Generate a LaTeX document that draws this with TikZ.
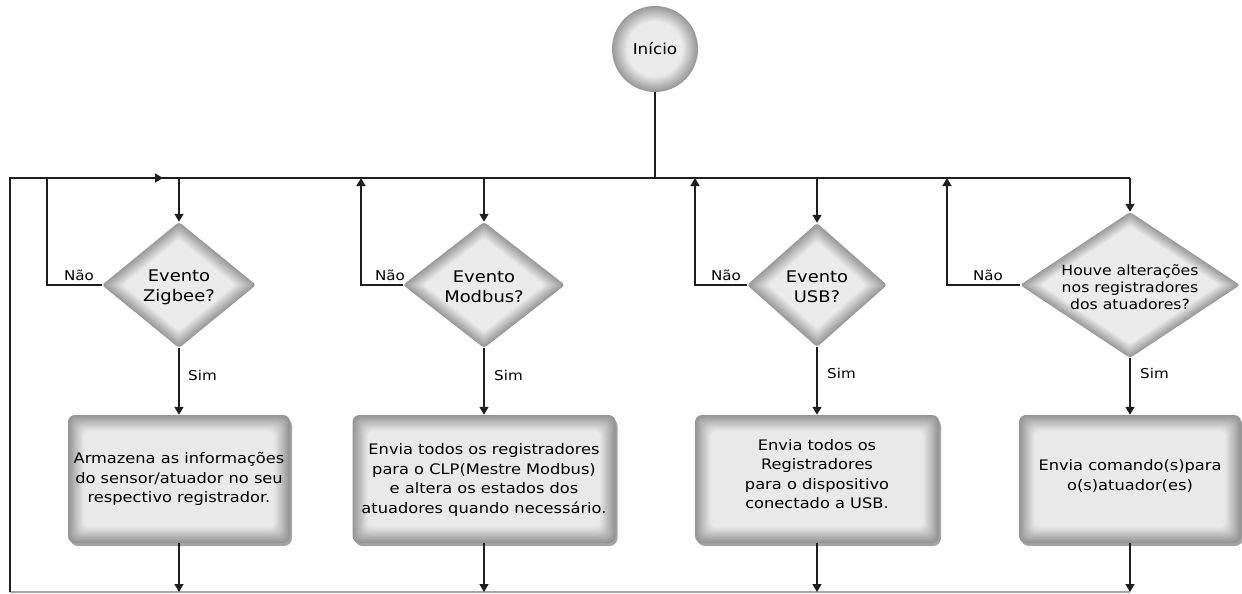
\documentclass[tikz,border=0pt]{standalone}
\usepackage{fontspec}
\setmainfont{DejaVu Sans}[FakeStretch=1.12]
\usetikzlibrary{arrows.meta,shapes.geometric}

% bevelled rounded rectangle: cx, cy, w, h
\newcommand\bevelrect[4]{%
  \fill[black!36, rounded corners=8] ({#1-#3/2+2},{#2-#4/2+3}) rectangle ({#1+#3/2+2},{#2+#4/2+3});
  \foreach \i [evaluate=\i as \c using 42-1.95*\i] in {0,...,17}{%
    \fill[black!\c, rounded corners=7] ({#1-#3/2+0.9*\i},{#2-#4/2+0.9*\i}) rectangle ({#1+#3/2-0.9*\i},{#2+#4/2-0.9*\i});
  }%
}
% bevelled diamond: cx, cy, hw, hh
\newcommand\beveldia[4]{%
  \foreach \i [evaluate=\i as \c using 40-1.9*\i, evaluate=\i as \w using #3-1.25*\i, evaluate=\i as \h using #4-1.25*\i*#4/#3] in {0,...,17}{%
    \fill[black!\c, rounded corners=3] ({#1-\w},{#2}) -- ({#1},{#2-\h}) -- ({#1+\w},{#2}) -- ({#1},{#2+\h}) -- cycle;
  }%
}
% bevelled circle: cx, cy, r
\newcommand\bevelcirc[3]{%
  \foreach \i [evaluate=\i as \c using 40-1.9*\i] in {0,...,17}{%
    \fill[black!\c] (#1,#2) circle ({#3-0.9*\i});
  }%
}

\tikzset{
  txt/.style={align=center, inner sep=0, font=\fontsize{14.5}{19.5}\selectfont},
  dtxt/.style={align=center, inner sep=0, font=\fontsize{16}{20}\selectfont},
  lbl/.style={inner sep=0, font=\fontsize{13.5}{16}\selectfont},
  dia/.style={diamond, draw=none, inner sep=0},
  boxn/.style={rectangle, draw=none, inner sep=0},
  ln/.style={draw=black!88, line width=1.5},
  arr/.style={ln, -{Triangle[length=8,width=9]}},
  faint/.style={draw=black!35, line width=1.2}
}

\begin{document}
\begin{tikzpicture}[x=1pt, y=-1pt]
\useasboundingbox (0,0) rectangle (1242,594);

% shaded shapes
\bevelcirc{655}{49}{43}
\beveldia{179}{285}{77}{63}
\beveldia{484}{285}{81}{63}
\beveldia{817}{285}{70}{62}
\beveldia{1130}{285}{110}{73}
\bevelrect{179}{479}{222}{128}
\bevelrect{484}{479}{263}{128}
\bevelrect{817}{479}{244}{128}
\bevelrect{1130}{479}{222}{128}

% nodes
\node[circle, minimum size=86, inner sep=0, font=\fontsize{15}{19}\selectfont] (s) at (655,49) {Início};

\node[dia, minimum width=154, minimum height=126] (d1) at (179,285) {};
\node[dia, minimum width=162, minimum height=126] (d2) at (484,285) {};
\node[dia, minimum width=140, minimum height=124] (d3) at (817,285) {};
\node[dia, minimum width=220, minimum height=146] (d4) at (1130,285) {};

\node[dtxt] (t1) at (179,287) {Evento\\Zigbee?};
\node[dtxt] (t2) at (484,287) {Evento\\Modbus?};
\node[dtxt] (t3) at (817,287) {Evento\\USB?};
\node[txt, font=\fontsize{14}{17}\selectfont] (t4) at (1130,287) {Houve alterações\\nos registradores\\dos atuadores?};

\node[boxn, minimum width=222, minimum height=128] (b1) at (179,479) {};
\node[boxn, minimum width=263, minimum height=128] (b2) at (484,479) {};
\node[boxn, minimum width=244, minimum height=128] (b3) at (817,479) {};
\node[boxn, minimum width=222, minimum height=128] (b4) at (1130,479) {};

\node[txt] (bt1) at (179,479) {Armazena as informações\\do sensor/atuador no seu\\respectivo registrador.};
\node[txt] (bt2) at (484,480) {Envia todos os registradores\\para o CLP(Mestre Modbus)\\e altera os estados dos\\atuadores quando necessário.};
\node[txt] (bt3) at (817,474) {Envia todos os\\Registradores\\para o dispositivo\\conectado a USB.};
\node[txt] (bt4) at (1130,476) {Envia comando(s)para\\o(s)atuador(es)};

% bus coordinates
\coordinate (sb) at (655,178);
\coordinate (tl) at (10,178);
\coordinate (bl) at (10,592);
\coordinate (ta) at (163,178);
\coordinate (tr) at (1130,178);
\coordinate (br) at (1130,592);
\coordinate (c1) at (179,178);
\coordinate (c2) at (484,178);
\coordinate (c3) at (817,178);
\coordinate (n1) at (47,178);
\coordinate (n2) at (361,178);
\coordinate (n3) at (695,178);
\coordinate (n4) at (947,178);
\coordinate (e1) at (179,592);
\coordinate (e2) at (484,592);
\coordinate (e3) at (817,592);

% start to bus
\draw[ln] (s.south) -- (sb);
% main loop
\draw[faint] (br) -- (bl);
\draw[ln] (bl) -- (tl) -- (ta);
\draw[arr] (tl) -- (ta);
\draw[ln] (ta) -- (tr);
\draw[arr] (tr) -- (d4.north);
\draw[arr] (c1) -- (d1.north);
\draw[arr] (c2) -- (d2.north);
\draw[arr] (c3) -- (d3.north);

% Nao loops
\draw[ln] (d1.west) -| (n1);
\draw[arr] (d2.west) -| (n2);
\draw[arr] (d3.west) -| (n3);
\draw[arr] (d4.west) -| (n4);
\node[lbl] (l1) at (79,275) {Não};
\node[lbl] (l2) at (390,275) {Não};
\node[lbl] (l3) at (726,275) {Não};
\node[lbl] (l4) at (988,275) {Não};

% Sim
\draw[arr] (d1.south) -- (b1.north);
\draw[arr] (d2.south) -- (b2.north);
\draw[arr] (d3.south) -- (b3.north);
\draw[arr] (d4.south) -- (b4.north);
\node[lbl, anchor=west] (s1) at (188,375) {Sim};
\node[lbl, anchor=west] (s2) at (494,375) {Sim};
\node[lbl, anchor=west] (s3) at (827,373) {Sim};
\node[lbl, anchor=west] (s4) at (1140,373) {Sim};

% boxes to bottom bus
\draw[arr] (b1.south) -- (e1);
\draw[arr] (b2.south) -- (e2);
\draw[arr] (b3.south) -- (e3);
\draw[arr] (b4.south) -- (br);
\end{tikzpicture}
\end{document}
